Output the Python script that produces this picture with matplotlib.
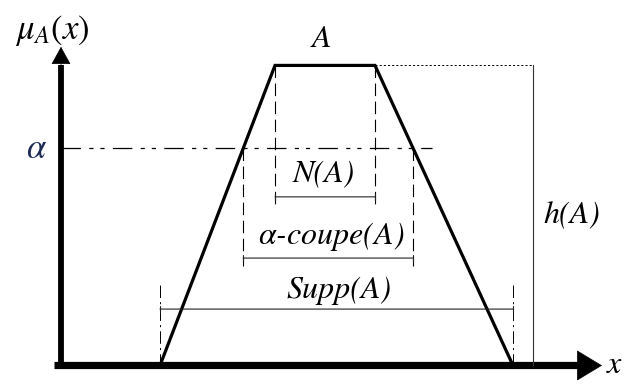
import matplotlib.pyplot as plt

plt.rcParams['mathtext.fontset'] = 'stix'
plt.rcParams['lines.scale_dashes'] = False

# trapezoid A (x in arbitrary units, membership 0..1)
supp = [9.9, 45.2]        # support bounds a, d
noyau = [21.4, 31.4]      # core bounds b, c
height = 1.0
alpha = 0.724
x_h = 47.2                # position of the h(A) marker
alpha_end = 37.1

# alpha-cut bounds from the edges
cut_left = supp[0] + alpha * (noyau[0] - supp[0])
cut_right = supp[1] - alpha * (supp[1] - noyau[1])

fig = plt.figure(figsize=(6.27, 3.85), dpi=100)
ax = fig.add_axes([0, 0, 1, 1])
ax.set_xlim(-6.1, 56.6)
ax.set_ylim(-0.065, 1.218)
ax.axis('off')

FS = 23
lab = dict(family='STIXGeneral', style='italic', fontsize=FS, ha='center', va='center')

# axes with arrows
ax.plot([0, 0], [-0.012, 1.0], color='k', lw=4.2, solid_capstyle='butt')
ax.annotate('', xy=(0, 1.062), xytext=(0, 0.99),
            arrowprops=dict(arrowstyle='-|>,head_length=0.58,head_width=0.32', lw=0.5,
                            color='k', mutation_scale=20, shrinkA=0, shrinkB=0))
ax.plot([-0.7, 52], [0, 0], color='k', lw=5.2, solid_capstyle='butt')
ax.annotate('', xy=(54.1, 0), xytext=(51.5, 0),
            arrowprops=dict(arrowstyle='-|>,head_length=0.86,head_width=0.52', lw=0.5,
                            color='k', mutation_scale=20, shrinkA=0, shrinkB=0))

# trapezoid
ax.plot([supp[0], noyau[0], noyau[1], supp[1]], [0, height, height, 0],
        color='k', lw=2.3, solid_joinstyle='miter')

# alpha level
ax.plot([0, alpha_end], [alpha, alpha], color='k', lw=0.9,
        linestyle=(0, (14, 6, 3, 5, 3, 6)))

# dashed verticals
for xv in noyau:
    ax.plot([xv, xv], [height, 0.535], color='k', lw=0.8, linestyle=(0, (9, 4)))
for xv in [cut_left, cut_right]:
    ax.plot([xv, xv], [alpha, 0.332], color='k', lw=0.8, linestyle=(0, (9, 4)))
for xv in supp:
    ax.plot([xv, xv], [0.268, 0], color='k', lw=0.7, linestyle=(0, (9, 3, 1.5, 3)))

# height marker
ax.plot([noyau[1], x_h], [height, height], color='k', lw=0.7, linestyle=(0, (1.5, 1.5)))
ax.plot([x_h, x_h], [height, 0], color='#333333', lw=0.8)

# brackets
def bracket(x0, x1, y):
    ax.annotate('', xy=(x1, y), xytext=(x0, y),
                arrowprops=dict(arrowstyle='|-|,widthA=0.2,widthB=0.2', lw=0.8, color='#222222',
                                shrinkA=0, shrinkB=0))

bracket(noyau[0], noyau[1], 0.562)
bracket(cut_left, cut_right, 0.358)
bracket(supp[0], supp[1], 0.188)

# labels
ax.text(-0.9, 1.118, r'$\mu_A(x)$', ha='center', va='center', fontsize=FS + 2)
ax.text(26.0, 1.085, 'A', **lab)
ax.text(-2.4, alpha, r'$\alpha$', ha='center', va='center', fontsize=FS + 2, color='#1c2a55')
ax.text(26.3, 0.64, 'N(A)', **lab)
ax.text(27.05, 0.43, r'$\alpha$-coupe(A)', **lab)
ax.text(27.75, 0.25, 'Supp(A)', **lab)
ax.text(51.05, 0.5, 'h(A)', **lab)
ax.text(55.3, 0.0, 'x', family='STIXGeneral', style='italic', fontsize=FS,
        ha='center', va='center')

plt.savefig('out.png', dpi=100)
